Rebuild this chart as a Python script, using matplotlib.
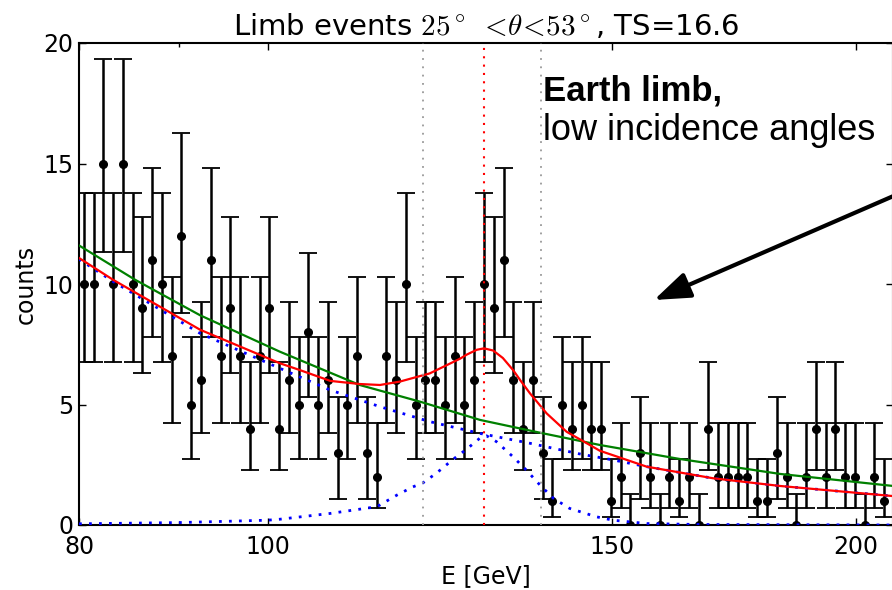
import numpy as np
import matplotlib.pyplot as plt
from matplotlib.ticker import FixedLocator, NullFormatter

plt.rcParams['mathtext.fontset'] = 'cm'

# counts per log10 bin (width 0.005) starting at 80 GeV
counts = [10, 10, 15, 10, 15, 10, 9, 11, 10, 7, 12, 5, 6, 11, 7, 9, 7, 4, 7, 9,
          4, 6, 5, 8, 5, 6, 3, 5, 7, 3, 2, 7, 6, 10, 5, 6, 6, 5, 7, 5,
          6, 10, 9, 11, 6, 4, 6, 3, 1, 5, 4, 5, 4, 4, 1, 2, 0, 3, 2, 0,
          2, 1, 2, 0, 4, 2, 2, 2, 2, 1, 1, 3, 2, 0, 2, 4, 2, 4, 2, 2,
          0, 2, 1]
energy = 80 * 10 ** (0.0025 + 0.005 * np.arange(len(counts)))

# error bar ends (lower, upper), indexed by count
bar_lo = [0, 0.35, 0.72, 1.09, 2.28, 2.74, 3.82, 4.22, 5.30, 6.32, 6.78, 7.79, 8.81, 9.8, 10.8, 11.32]
bar_hi = [1.29, 2.73, 4.22, 5.30, 6.75, 7.79, 9.24, 10.28, 11.30, 12.79, 13.79, 14.80, 16.28, 17.3, 18.3, 19.32]

# background only fit (green)
e_bkg = [80, 85.5, 92.3, 101.4, 111.4, 119.6, 128.4, 137.8, 147.9, 162.5, 182.9, 209]
bkg = [11.6, 10.17, 8.7, 7.19, 5.81, 5.12, 4.36, 3.83, 3.32, 2.74, 2.12, 1.62]

# background + line fit (red)
e_tot = [80, 83.3, 92.3, 101.4, 103.8, 107.6, 111.4, 114.1, 116.8, 121.0, 125.4, 126.4,
         127.9, 129.0, 130.4, 131.9, 133.5, 134.8, 136.2, 138.9, 142.2, 147.9, 156.3,
         169.0, 182.9, 209]
tot = [11.08, 10.17, 8.1, 6.71, 6.43, 5.98, 5.85, 5.81, 5.95, 6.29, 6.90, 7.07,
       7.27, 7.33, 7.24, 6.93, 6.43, 5.95, 5.46, 4.63, 3.87, 3.08, 2.42,
       1.94, 1.62, 1.20]

# components of that fit (blue dotted)
e_comp_bkg = [80, 83.3, 92.3, 101.4, 107.6, 114.1, 121.0, 128.4, 136.2, 144.4, 150.2, 156.3, 169.0, 182.9, 209]
comp_bkg = [11.03, 10.1, 7.95, 6.50, 5.60, 4.91, 4.29, 3.80, 3.39, 2.95, 2.70, 2.42, 1.94, 1.62, 1.20]
e_line = [80, 90, 100, 101.4, 107.6, 113.7, 116.4, 118.6, 120.0, 122.0, 124.4, 126.4, 128.4,
          129.4, 130.9, 133.5, 135.6, 137.8, 140.0, 142.7, 147.3, 150.2, 156.3, 166.4, 209]
line = [0.05, 0.10, 0.20, 0.24, 0.48, 0.76, 1.24, 1.58, 1.74, 2.16, 2.73, 3.15, 3.61,
        3.70, 3.46, 2.83, 2.28, 1.66, 1.11, 0.69, 0.34, 0.20, 0.06, 0.02, 0.0]

e_peak = 129.0
e_window = [120.0, 138.0]

fig = plt.figure(figsize=(8.92, 5.9), dpi=100)
ax = fig.add_axes([79 / 892, 65 / 590, 814 / 892, 482 / 590])

c = np.array(counts)
lo = np.array([bar_lo[n] for n in counts])
hi = np.array([bar_hi[n] for n in counts])
ax.errorbar(energy, c, yerr=[c - lo, hi - c], fmt='ko', ms=5.5, ecolor='k',
            elinewidth=1.8, capsize=6.5, capthick=1.3, zorder=2)

ax.plot(e_bkg, bkg, color='#008000', lw=1.6, zorder=3)
ax.plot(e_comp_bkg, comp_bkg, color='b', lw=2, dashes=(1, 2.6), zorder=3)
ax.plot(e_line, line, color='b', lw=2, dashes=(1, 2.6), zorder=3)
ax.plot(e_tot, tot, color='r', lw=1.6, zorder=4)

ax.axvline(e_peak, color='r', lw=1.5, dashes=(1, 3), zorder=5)
for e in e_window:
    ax.axvline(e, color='0.6', lw=1.3, dashes=(1, 3.6), zorder=5)

ax.set_xscale('log')
ax.set_xlim(80, 209)
ax.set_ylim(0, 20)
ax.xaxis.set_major_locator(FixedLocator([80, 100, 150, 200]))
ax.xaxis.set_minor_locator(FixedLocator([90]))
ax.xaxis.set_minor_formatter(NullFormatter())
ax.set_xticklabels(['80', '100', '150', '200'])
ax.set_yticks([0, 5, 10, 15, 20])

for s in ax.spines.values():
    s.set_linewidth(1.5)
ax.tick_params(which='both', direction='in', top=True, right=True, labelsize=17)
ax.tick_params(which='major', length=5, width=1)
ax.tick_params(which='minor', length=3, width=1)
ax.tick_params(axis='x', pad=7)
ax.tick_params(axis='y', pad=4)

ax.set_xlabel('E [GeV]', fontsize=17)
ax.set_ylabel('counts', fontsize=17)
ax.set_title(r'Limb events $25^\circ\ <\!\theta\!<\!53^\circ$, TS=16.6', fontsize=21, pad=6)

fig.text(543 / 892, 490 / 590, 'Earth limb,', fontsize=25, fontweight='bold',
         family='Liberation Sans', va='baseline')
fig.text(543 / 892, 450 / 590, 'low incidence angles', fontsize=26,
         family='Liberation Sans', va='baseline')
ax.annotate('', xy=(654, 290), xycoords='figure pixels',
            xytext=(905, 399), textcoords='figure pixels',
            arrowprops=dict(arrowstyle='-|>,head_length=1.1,head_width=0.4',
                            mutation_scale=20, lw=3, color='k',
                            shrinkA=0, shrinkB=0),
            annotation_clip=False)

fig.savefig('out.png', dpi=100)
